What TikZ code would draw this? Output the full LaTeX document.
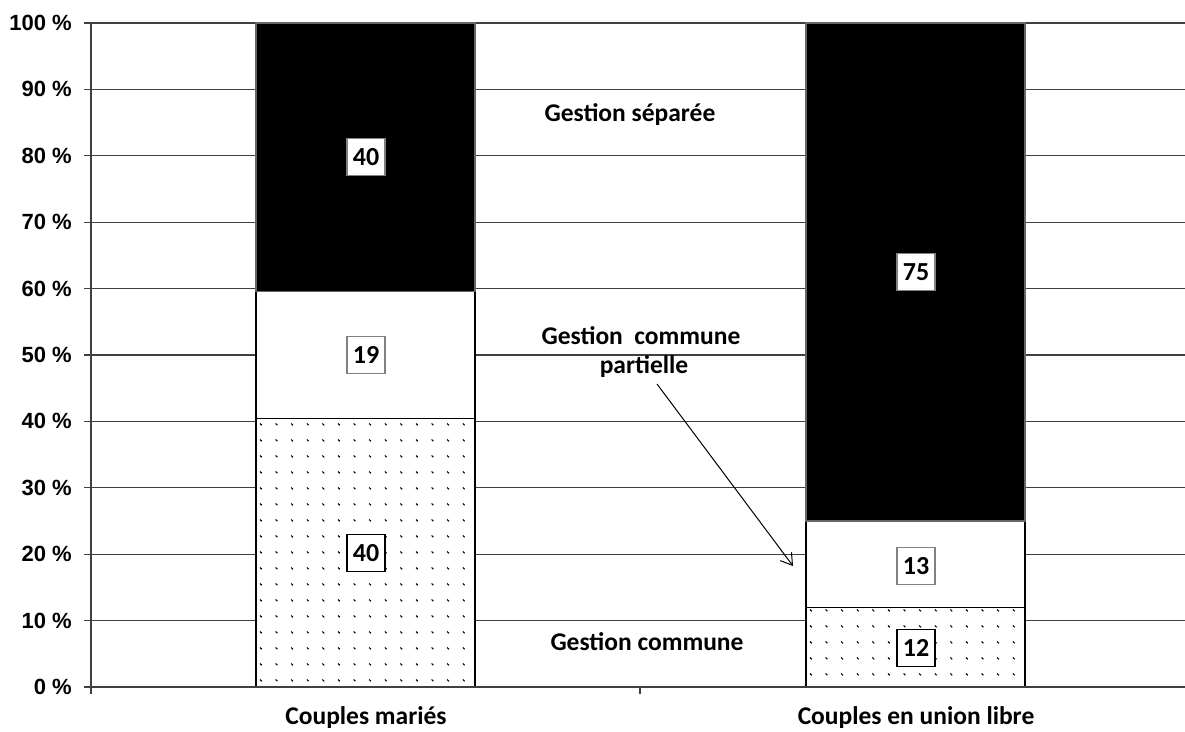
\documentclass[tikz,border=0pt]{standalone}
\usepackage{fontspec}
\newfontfamily\calfont{Carlito}
\newfontfamily\arifont{Liberation Sans}
\usetikzlibrary{arrows.meta}
\tikzset{
  grid/.style={draw=black!75, line width=1.3pt},
  barline/.style={draw=black, line width=1.3pt},
  ylab/.style={anchor=east, font=\arifont\bfseries\fontsize{22}{22}\selectfont, inner sep=0pt},
  txt/.style={font=\calfont\bfseries\fontsize{25.5}{29}\selectfont, inner sep=0pt, align=center},
  valbox/.style={font=\calfont\bfseries\fontsize{26}{26}\selectfont, fill=white, line width=1.3pt, minimum width=38pt, minimum height=37pt, inner sep=0pt},
  dotmark/.style={draw=black, line width=1.1pt},
}
\begin{document}
\begin{tikzpicture}[x=1pt,y=-1pt]
\useasboundingbox (0,0) rectangle (1185,731);
% gridlines and y labels
\foreach \p in {0,10,...,100}{
  \pgfmathsetmacro{\yy}{687-6.64*\p}
  \draw[grid] (84,\yy) -- (1185,\yy);
  \node[ylab] (yl\p) at (72,\yy) {\p\ \%};
}
% bars
\pgfmathsetmacro{\ya}{687-6.64*40/0.99}
\pgfmathsetmacro{\yb}{687-6.64*59/0.99}
% bar 1
\fill[white] (256,687) rectangle (475,\yb);
\foreach \c in {0,...,13}{
  \foreach \r in {0,...,16}{
    \draw[dotmark] ({260+15.6*\c},{423.5+16*\r}) -- ++(1.8,1.8);
  }
}
\draw[barline] (256,687) rectangle (475,\ya);
\draw[barline] (256,\ya) rectangle (475,\yb);
\fill[black] (256,\yb) rectangle (475,23);
\draw[draw=black!60, line width=1.3pt] (256,\yb) rectangle (475,23);
% bar 2
\fill[white] (806,687) rectangle (1025,521);
\foreach \c in {0,...,13}{
  \foreach \r in {0,...,4}{
    \draw[dotmark] ({810+15.6*\c},{609.5+16*\r}) -- ++(1.8,1.8);
  }
}
\draw[barline] (806,687) rectangle (1025,607.3);
\draw[barline] (806,607.3) rectangle (1025,521);
\fill[black] (806,521) rectangle (1025,23);
\draw[draw=black!60, line width=1.3pt] (806,521) rectangle (1025,23);
% axes
\draw[grid] (91,23) -- (91,694);
\draw[grid] (84,687) -- (1185,687);
\draw[grid] (640,687) -- (640,694);
% value boxes
\node[valbox, draw=black!50] (v1c) at (366,157) {40};
\node[valbox, draw=black!50] (v1b) at (366,355) {19};
\node[valbox, draw=black] (v1a) at (366,553) {40};
\node[valbox, draw=black!50] (v2c) at (916,272) {75};
\node[valbox, draw=black!50] (v2b) at (916,566) {13};
\node[valbox, draw=black] (v2a) at (916,648) {12};
% labels
\node[txt] (lsep) at (630,115) {Gestion séparée};
\node[txt] (lpart1) at (641,336) {Gestion\ \ commune};
\node[txt] (lpart2) at (644,367) {partielle};
\node[txt] (lcom) at (647,642) {Gestion commune};
\node[txt] (c1) at (366,718) {Couples mariés};
\node[txt] (c2) at (916,718) {Couples en union libre};
% arrow
\coordinate (as) at (657,384);
\coordinate (ae) at (793,566);
\draw[line width=1pt, -{Straight Barb[length=11pt,width=14pt,line width=1pt]}] (as) -- (ae);
\end{tikzpicture}
\end{document}
